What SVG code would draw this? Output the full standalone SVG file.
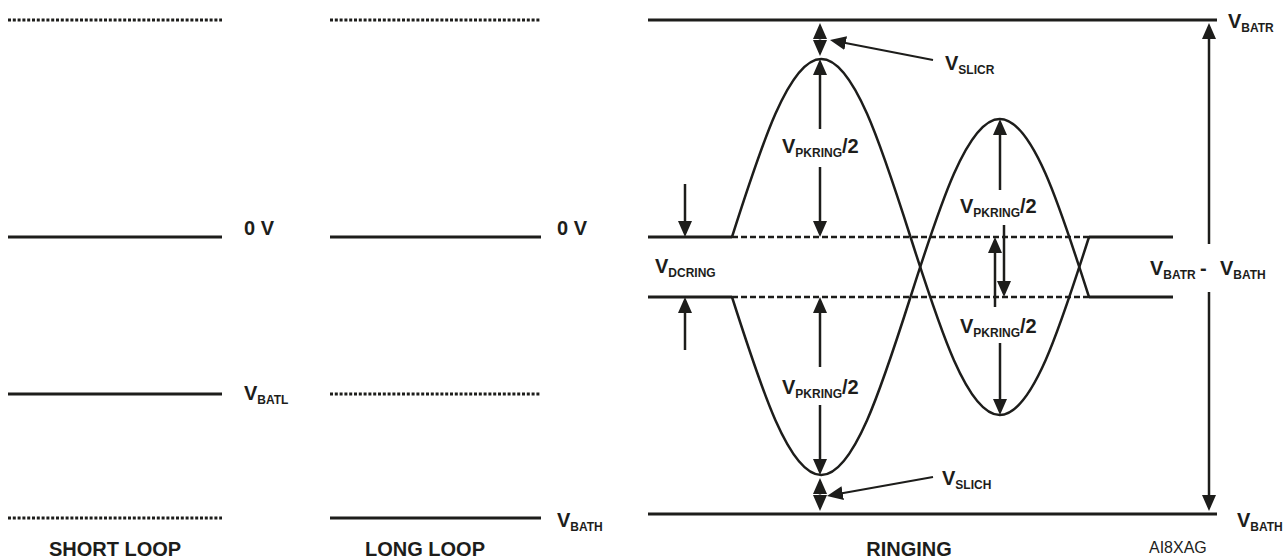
<svg xmlns="http://www.w3.org/2000/svg" width="1284" height="558" viewBox="0 0 1284 558">
<style>
.solid{stroke:#1d1d1b;stroke-width:3;fill:none}
.dot{stroke:#1d1d1b;stroke-width:3;fill:none;stroke-dasharray:3,1.8}
.dash{stroke:#1d1d1b;stroke-width:2.5;fill:none;stroke-dasharray:6,3}
.curve{stroke:#1d1d1b;stroke-width:2.5;fill:none}
.arr{stroke:#1d1d1b;stroke-width:2.5;fill:none;marker-end:url(#ah)}
.lead{stroke:#1d1d1b;stroke-width:2;fill:none;marker-end:url(#ah)}
text{font-family:"Liberation Sans",Arial,sans-serif;fill:#1d1d1b;font-weight:bold}
.v{font-size:20px}
.s{font-size:12px}
.t{font-size:20px}
.id{font-size:16px;font-weight:normal}
</style>
<defs>
<marker id="ah" viewBox="0 0 16 14" refX="12" refY="7" markerWidth="16" markerHeight="14" markerUnits="userSpaceOnUse" orient="auto">
<path d="M0,0 L16,7 L0,14 z" fill="#1d1d1b"/>
</marker>
</defs>

<g id="short-loop">
<line class="dot" x1="8" y1="20" x2="222" y2="20"/>
<line class="solid" x1="8" y1="237" x2="222" y2="237"/>
<line class="solid" x1="8" y1="394" x2="222" y2="394"/>
<line class="dot" x1="8" y1="518" x2="222" y2="518"/>
<text class="v" x="244" y="235">0 V</text>
<text class="v" x="244" y="400">V<tspan class="s" dy="4">BATL</tspan></text>
<text class="t" x="115" y="556" text-anchor="middle">SHORT LOOP</text>
</g>

<g id="long-loop">
<line class="dot" x1="330" y1="20" x2="541" y2="20"/>
<line class="solid" x1="330" y1="237" x2="541" y2="237"/>
<line class="dot" x1="330" y1="394" x2="541" y2="394"/>
<line class="solid" x1="330" y1="518" x2="541" y2="518"/>
<text class="v" x="557" y="235">0 V</text>
<text class="v" x="557" y="527">V<tspan class="s" dy="4">BATH</tspan></text>
<text class="t" x="425" y="556" text-anchor="middle">LONG LOOP</text>
</g>

<g id="ringing">
<line class="solid" x1="648" y1="20" x2="1217" y2="20"/>
<line class="solid" x1="648" y1="514" x2="1217" y2="514"/>
<line class="solid" x1="648" y1="237" x2="732" y2="237"/>
<line class="dash" x1="732" y1="237" x2="1089" y2="237"/>
<line class="solid" x1="1089" y1="237" x2="1173" y2="237"/>
<line class="solid" x1="648" y1="297" x2="732" y2="297"/>
<line class="dash" x1="732" y1="297" x2="1089" y2="297"/>
<line class="solid" x1="1089" y1="297" x2="1173" y2="297"/>
<path class="curve" d="M732,237 C761.1,145.8 788.95,59 821.25,59 C853.55,59 881.4,145.8 910.5,237 C939.6,328.2 967.45,415 999.75,415 C1032.05,415 1059.9,328.2 1089,237"/>
<path class="curve" d="M732,297 C761.1,388.2 788.95,475 821.25,475 C853.55,475 881.4,388.2 910.5,297 C939.6,205.8 967.45,119 999.75,119 C1032.05,119 1059.9,205.8 1089,297"/>
<text class="v" x="1228" y="28">V<tspan class="s" dy="4">BATR</tspan></text>
<text class="v" x="1237" y="527">V<tspan class="s" dy="4">BATH</tspan></text>
<text class="v" x="1150" y="275">V<tspan class="s" dy="4">BATR</tspan><tspan x="1200" dy="-4">-</tspan></text>
<text class="v" x="1220" y="275">V<tspan class="s" dy="4">BATH</tspan></text>
<text class="v" x="655" y="273">V<tspan class="s" dy="4">DCRING</tspan></text>
<text class="v" x="782" y="153">V<tspan class="s" dy="4">PKRING</tspan><tspan dy="-4">/2</tspan></text>
<text class="v" x="782" y="394">V<tspan class="s" dy="4">PKRING</tspan><tspan dy="-4">/2</tspan></text>
<text class="v" x="960" y="213">V<tspan class="s" dy="4">PKRING</tspan><tspan dy="-4">/2</tspan></text>
<text class="v" x="960" y="333">V<tspan class="s" dy="4">PKRING</tspan><tspan dy="-4">/2</tspan></text>
<text class="v" x="945" y="70">V<tspan class="s" dy="4">SLICR</tspan></text>
<text class="v" x="942" y="485">V<tspan class="s" dy="4">SLICH</tspan></text>
<text class="t" x="909" y="556" text-anchor="middle">RINGING</text>
<text class="id" x="1149" y="553">AI8XAG</text>
</g>

<g id="connectors">
<line class="arr" x1="685" y1="184" x2="685" y2="233"/>
<line class="arr" x1="685" y1="350" x2="685" y2="301"/>
<line class="arr" x1="820" y1="129" x2="820" y2="63"/>
<line class="arr" x1="820" y1="167" x2="820" y2="233"/>
<line class="arr" x1="820" y1="367" x2="820" y2="301"/>
<line class="arr" x1="820" y1="405" x2="820" y2="471"/>
<line class="arr" x1="1000" y1="190" x2="1000" y2="123"/>
<line class="arr" x1="1004" y1="225" x2="1004" y2="293"/>
<line class="arr" x1="995" y1="307" x2="995" y2="241"/>
<line class="arr" x1="1000" y1="343" x2="1000" y2="411"/>
<line class="arr" x1="1209" y1="244" x2="1209" y2="27"/>
<line class="arr" x1="1209" y1="292" x2="1209" y2="507"/>
<line class="arr" x1="820" y1="39.5" x2="820" y2="27"/>
<line class="arr" x1="820" y1="40.5" x2="820" y2="52"/>
<line class="arr" x1="820" y1="494.5" x2="820" y2="482"/>
<line class="arr" x1="820" y1="495.5" x2="820" y2="507"/>
<line class="lead" x1="933" y1="60" x2="833.9" y2="40.8"/>
<line class="lead" x1="933" y1="477" x2="830.9" y2="495.3"/>
</g>
</svg>
